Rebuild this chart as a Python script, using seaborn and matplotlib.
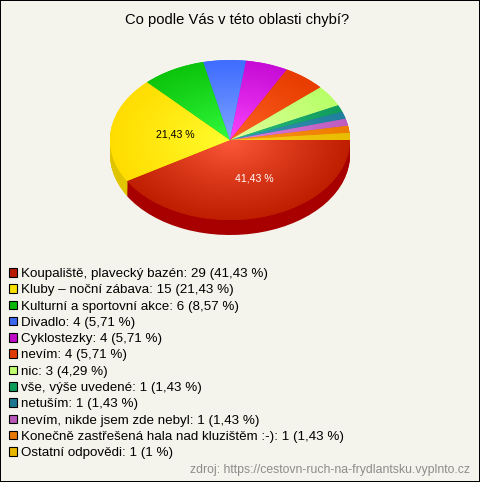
import matplotlib
matplotlib.use('Agg')
import matplotlib.pyplot as plt
from matplotlib.patches import Patch
import numpy as np
import seaborn as sns

title = 'Co podle Vás v této oblasti chybí?'
source = 'zdroj: https://cestovn-ruch-na-frydlantsku.vyplnto.cz'
answers = ['Koupaliště, plavecký bazén', 'Kluby – noční zábava', 'Kulturní a sportovní akce',
           'Divadlo', 'Cyklostezky', 'nevím', 'nic', 'vše, výše uvedené', 'netuším',
           'nevím, nikde jsem zde nebyl', 'Konečně zastřešená hala nad kluzištěm :-)',
           'Ostatní odpovědi']
counts = [29, 15, 6, 4, 4, 4, 3, 1, 1, 1, 1, 1]
percents = ['41,43', '21,43', '8,57', '5,71', '5,71', '5,71', '4,29', '1,43', '1,43', '1,43', '1,43', '1']

outer_colors = ['#bf1e00', '#ffdd00', '#0cc40c', '#3f6dff', '#c60cd6', '#e83c00', '#b8ff68',
                '#0f9c5c', '#1f7f9c', '#be5cc0', '#ee7c00', '#e8bc00']
inner_colors = ['#ff5a3c', '#ffff30', '#34ff40', '#84a8ff', '#ff48ff', '#ff6428', '#e4ffa0',
                '#30c088', '#3c9cb8', '#e084e0', '#ff9c20', '#ffd020']
side_colors = ['#a80000', '#e0c400', '#08a008', '#3058d0', '#a008b0', '#c03000', '#98d050',
               '#0c8048', '#186880', '#984898', '#c06400', '#c09800']
legend_colors = ['#b81c00', '#f8e000', '#08b808', '#3c68f0', '#c00cc8', '#e03c00', '#c0ff70',
                 '#0c9c58', '#1c7890', '#b858b8', '#e87800', '#e8b800']

sns.set_style('white')
plt.rcParams['font.family'] = ['Liberation Sans', 'DejaVu Sans']
bg = '#f5f4ec'

W, H = 480, 482
fig = plt.figure(figsize=(W / 100, H / 100), dpi=100, facecolor=bg)
fig.patch.set_edgecolor('black')
fig.patch.set_linewidth(1.44)

# pie box in pixels, squashed so the circle comes out as an ellipse
px_left, px_right, px_top, px_bottom = 110, 350, 60, 220
ax = fig.add_axes([px_left / W, 1 - (px_bottom + 20) / H, (px_right - px_left) / W,
                   (px_bottom + 20 - px_top) / H])
ax.patch.set_alpha(0)

depth = 15 / 80
for k in np.linspace(depth, 0.01, 16):
    ax.pie(counts, colors=side_colors, startangle=0, counterclock=False, center=(0, -k),
           wedgeprops={'linewidth': 0})

wedges, _ = ax.pie(counts, colors=outer_colors, startangle=0, counterclock=False,
                   wedgeprops={'linewidth': 0})

# radial shading for every slice
xx, yy = np.meshgrid(np.linspace(-1, 1, 300), np.linspace(-1, 1, 300))
rr = np.clip(np.hypot(xx, yy), 0, 1) ** 0.85
for w, c_in, c_out in zip(wedges, inner_colors, outer_colors):
    cmap = sns.blend_palette([c_in, c_out], as_cmap=True)
    im = ax.imshow(rr, extent=(-1, 1, -1, 1), origin='lower', cmap=cmap, vmin=0, vmax=1,
                   aspect='auto', zorder=w.get_zorder() + 0.1)
    im.set_clip_path(w)

ax.set_aspect('auto')
ax.set_xlim(-1, 1)
ax.set_ylim(-1.25, 1)
ax.axis('off')

# percent labels on the two big slices
angle = 0
for i, n in enumerate(counts):
    mid = np.deg2rad(angle + n / sum(counts) * 180)
    angle += n / sum(counts) * 360
    if n >= 15:
        dx = [0.07, 0.04][i]
        ax.text(0.5 * np.cos(mid) + dx, -0.5 * np.sin(mid), percents[i] + ' %', ha='center', va='center',
                fontsize=7.6, color=['white', 'black'][i])

fig.text(237 / W, 1 - 20 / H, title, ha='center', va='center', fontsize=10.65, color='black')

handles = [Patch(facecolor=c, edgecolor='black', linewidth=0.8) for c in legend_colors]
labels = [f'{a}: {n} ({p} %)' for a, n, p in zip(answers, counts, percents)]
fig.legend(handles, labels, loc='upper left', bbox_to_anchor=(9 / W, 1 - 268 / H), borderaxespad=0,
           borderpad=0, frameon=False, fontsize=9.6, handlelength=0.62, handleheight=0.62,
           handletextpad=0.25, labelspacing=0.32, labelcolor='black')

fig.text(470 / W, 1 - 470 / H, source, ha='right', va='center', fontsize=8.8, color='#8c8c8c')

fig.savefig('out.png', dpi=100, facecolor=bg, edgecolor='black')
